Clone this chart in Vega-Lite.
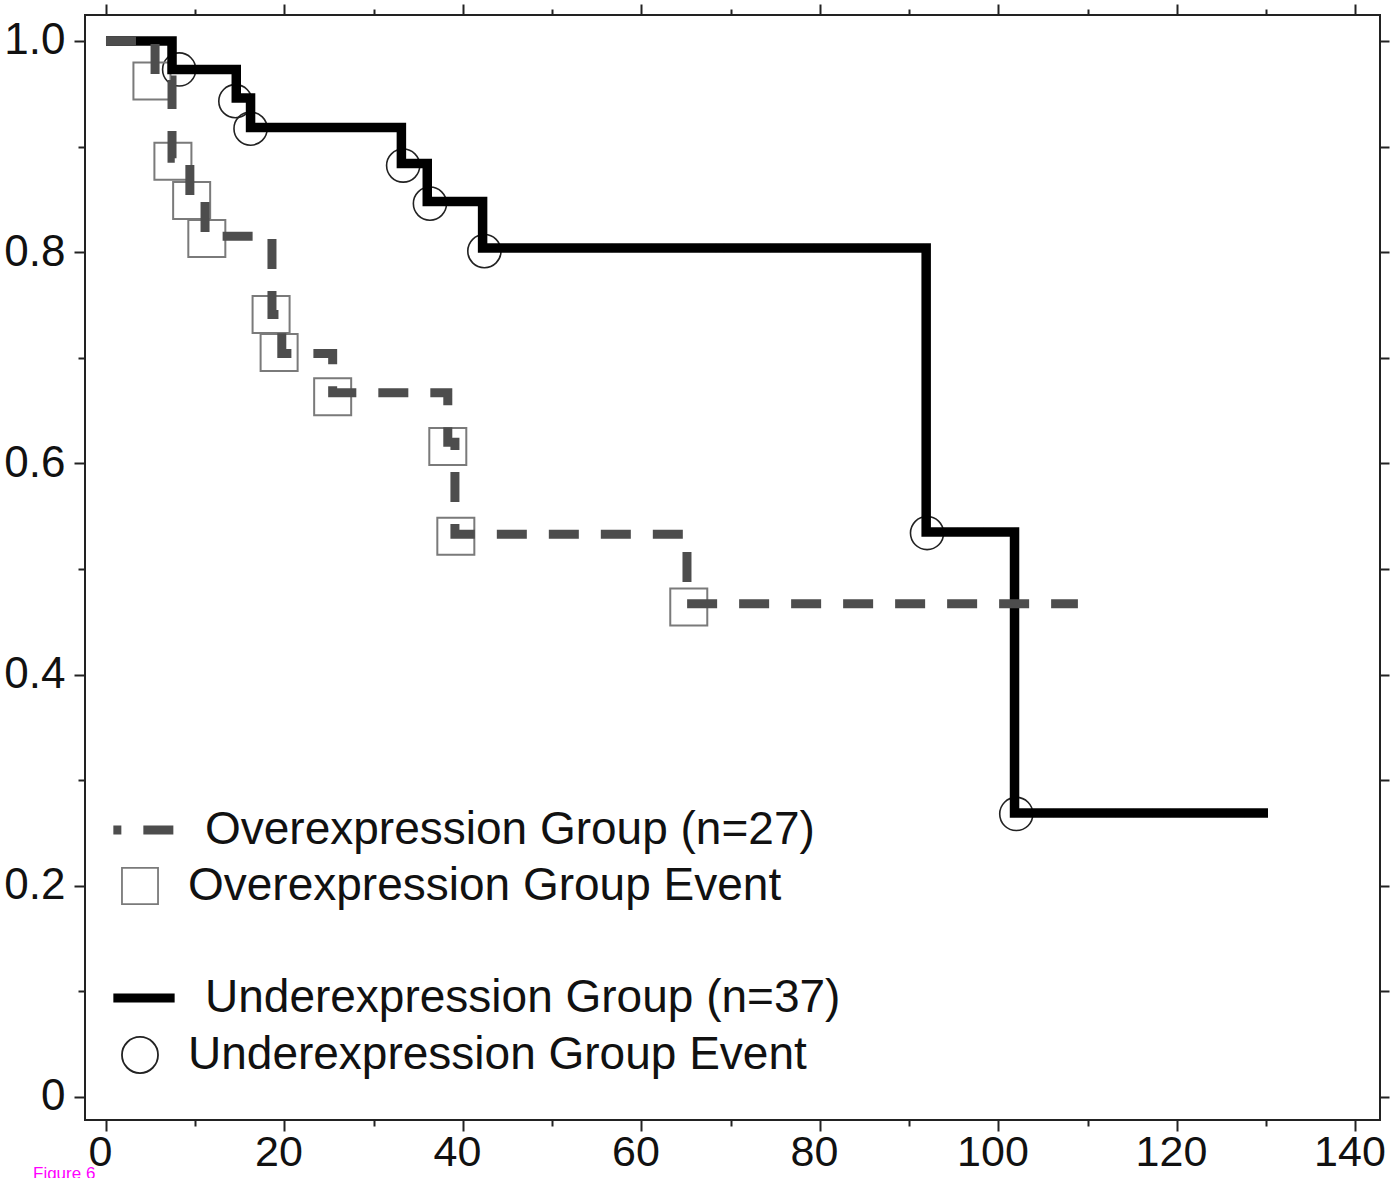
{
  "$schema": "https://vega.github.io/schema/vega-lite/v6.json",
  "width": 1295,
  "height": 1105,
  "autosize": {"type": "none"},
  "padding": {"left": 85, "top": 15, "right": 10, "bottom": 58},
  "background": "white",
  "config": {
    "view": {"stroke": "#222222", "strokeWidth": 2, "fill": "white"},
    "font": "Liberation Sans",
    "legend": {
      "orient": "none",
      "symbolSize": 1300,
      "labelFontSize": 46,
      "labelFont": "Liberation Sans",
      "labelColor": "#111111",
      "labelLimit": 2000,
      "padding": 0,
      "symbolOpacity": 1
    }
  },
  "title": {
    "text": "Figure 6",
    "orient": "bottom",
    "anchor": "start",
    "frame": "group",
    "color": "#ff00ff",
    "fontSize": 17,
    "fontWeight": "normal",
    "font": "Liberation Sans",
    "dx": -52,
    "offset": -8
  },
  "datasets": {
    "under": [
      {"time": 0, "survival": 1.0, "series": "Underexpression Group (n=37)"},
      {"time": 7.4, "survival": 0.973, "series": "Underexpression Group (n=37)"},
      {"time": 14.6, "survival": 0.946, "series": "Underexpression Group (n=37)"},
      {"time": 16.2, "survival": 0.918, "series": "Underexpression Group (n=37)"},
      {"time": 33.1, "survival": 0.884, "series": "Underexpression Group (n=37)"},
      {"time": 36.0, "survival": 0.848, "series": "Underexpression Group (n=37)"},
      {"time": 42.2, "survival": 0.804, "series": "Underexpression Group (n=37)"},
      {"time": 91.9, "survival": 0.535, "series": "Underexpression Group (n=37)"},
      {"time": 101.8, "survival": 0.269, "series": "Underexpression Group (n=37)"},
      {"time": 130.2, "survival": 0.269, "series": "Underexpression Group (n=37)"}
    ],
    "over": [
      {"time": 0, "survival": 1.0, "series": "Overexpression Group (n=27)"},
      {"time": 5.5, "survival": 0.963, "series": "Overexpression Group (n=27)"},
      {"time": 7.4, "survival": 0.889, "series": "Overexpression Group (n=27)"},
      {"time": 9.4, "survival": 0.852, "series": "Overexpression Group (n=27)"},
      {"time": 11.1, "survival": 0.815, "series": "Overexpression Group (n=27)"},
      {"time": 18.6, "survival": 0.741, "series": "Overexpression Group (n=27)"},
      {"time": 19.7, "survival": 0.704, "series": "Overexpression Group (n=27)"},
      {"time": 25.4, "survival": 0.667, "series": "Overexpression Group (n=27)"},
      {"time": 38.3, "survival": 0.62, "series": "Overexpression Group (n=27)"},
      {"time": 39.1, "survival": 0.533, "series": "Overexpression Group (n=27)"},
      {"time": 65.1, "survival": 0.467, "series": "Overexpression Group (n=27)"},
      {"time": 108.9, "survival": 0.467, "series": "Overexpression Group (n=27)"}
    ],
    "underEvents": [
      {"time": 8.2, "survival": 0.973, "series": "Underexpression Group Event"},
      {"time": 14.5, "survival": 0.943, "series": "Underexpression Group Event"},
      {"time": 16.2, "survival": 0.917, "series": "Underexpression Group Event"},
      {"time": 33.3, "survival": 0.882, "series": "Underexpression Group Event"},
      {"time": 36.3, "survival": 0.846, "series": "Underexpression Group Event"},
      {"time": 42.4, "survival": 0.801, "series": "Underexpression Group Event"},
      {"time": 92.0, "survival": 0.534, "series": "Underexpression Group Event"},
      {"time": 102.0, "survival": 0.268, "series": "Underexpression Group Event"}
    ],
    "overEvents": [
      {"time": 5.15, "survival": 0.962, "series": "Overexpression Group Event"},
      {"time": 7.5, "survival": 0.886, "series": "Overexpression Group Event"},
      {"time": 9.6, "survival": 0.849, "series": "Overexpression Group Event"},
      {"time": 11.3, "survival": 0.813, "series": "Overexpression Group Event"},
      {"time": 18.5, "survival": 0.741, "series": "Overexpression Group Event"},
      {"time": 19.4, "survival": 0.705, "series": "Overexpression Group Event"},
      {"time": 25.4, "survival": 0.663, "series": "Overexpression Group Event"},
      {"time": 38.3, "survival": 0.616, "series": "Overexpression Group Event"},
      {"time": 39.2, "survival": 0.531, "series": "Overexpression Group Event"},
      {"time": 65.3, "survival": 0.464, "series": "Overexpression Group Event"}
    ]
  },
  "resolve": {"axis": {"x": "independent", "y": "independent"}},
  "layer": [
    {
      "data": {"name": "underEvents"},
      "mark": {"type": "point", "filled": false, "size": 1100, "strokeWidth": 1.6, "opacity": 1},
      "encoding": {
        "x": {"field": "time", "type": "quantitative",
          "scale": {"domain": [-2.35, 142.75], "nice": false, "zero": false},
          "axis": {"orient": "top", "values": [0,10,20,30,40,50,60,70,80,90,100,110,120,130,140], "labels": false, "title": null, "domain": false, "grid": false, "tickColor": "#222222", "tickWidth": 2,
            "tickSize": {"condition": {"test": "datum.value % 20 == 0", "value": 11}, "value": 6}}},
        "y": {"field": "survival", "type": "quantitative",
          "scale": {"domain": [-0.0218, 1.0246], "nice": false, "zero": false},
          "axis": {"orient": "right", "values": [0,0.1,0.2,0.3,0.4,0.5,0.6,0.7,0.8,0.9,1.0], "labels": false, "title": null, "domain": false, "grid": false, "tickColor": "#222222", "tickWidth": 2, "tickSize": 9}},
        "color": {"field": "series", "type": "nominal",
          "scale": {"domain": ["Overexpression Group Event", "Underexpression Group Event"], "range": ["#7a7a7a", "#222222"]},
          "legend": {"title": null, "orient": "none", "legendX": 32, "legendY": 848, "rowPadding": 123, "symbolStrokeWidth": 1.8, "labelOffset": 25}},
        "shape": {"field": "series", "type": "nominal",
          "scale": {"domain": ["Overexpression Group Event", "Underexpression Group Event"], "range": ["square", "circle"]},
          "legend": {"title": null, "orient": "none", "legendX": 32, "legendY": 848, "rowPadding": 123, "symbolStrokeWidth": 1.8, "labelOffset": 25}}
      }
    },
    {
      "data": {"name": "overEvents"},
      "mark": {"type": "point", "filled": false, "size": 1370, "strokeWidth": 2, "opacity": 1},
      "encoding": {
        "x": {"field": "time", "type": "quantitative", "scale": {"domain": [-2.35, 142.75], "nice": false, "zero": false}, "axis": null},
        "y": {"field": "survival", "type": "quantitative", "scale": {"domain": [-0.0218, 1.0246], "nice": false, "zero": false}, "axis": null},
        "color": {"field": "series", "type": "nominal",
          "scale": {"domain": ["Overexpression Group Event", "Underexpression Group Event"], "range": ["#7a7a7a", "#222222"]},
          "legend": {"title": null, "orient": "none", "legendX": 32, "legendY": 848, "rowPadding": 123, "symbolStrokeWidth": 1.8, "labelOffset": 25}},
        "shape": {"field": "series", "type": "nominal",
          "scale": {"domain": ["Overexpression Group Event", "Underexpression Group Event"], "range": ["square", "circle"]},
          "legend": {"title": null, "orient": "none", "legendX": 32, "legendY": 848, "rowPadding": 123, "symbolStrokeWidth": 1.8, "labelOffset": 25}}
      }
    },
    {
      "data": {"name": "under"},
      "mark": {"type": "line", "interpolate": "step-after", "strokeWidth": 9.5, "strokeCap": "butt", "strokeJoin": "miter"},
      "encoding": {
        "x": {"field": "time", "type": "quantitative",
          "scale": {"domain": [-2.35, 142.75], "nice": false, "zero": false},
          "axis": {"orient": "bottom", "values": [0,10,20,30,40,50,60,70,80,90,100,110,120,130,140], "title": null, "domain": false, "grid": false,
            "labelExpr": "datum.value % 20 == 0 ? datum.label : ''", "format": "d",
            "labelFontSize": 43, "labelFont": "Liberation Sans", "labelColor": "#111111", "labelPadding": 0, "labelFlush": false, "labelOverlap": false, "labelOffset": -6,
            "tickColor": "#222222", "tickWidth": 2,
            "tickSize": {"condition": {"test": "datum.value % 20 == 0", "value": 11}, "value": 6}}},
        "y": {"field": "survival", "type": "quantitative",
          "scale": {"domain": [-0.0218, 1.0246], "nice": false, "zero": false},
          "axis": {"orient": "left", "values": [0,0.1,0.2,0.3,0.4,0.5,0.6,0.7,0.8,0.9,1.0], "title": null, "domain": false, "grid": false,
            "labelExpr": "round(datum.value * 10) % 2 == 0 ? (datum.value == 0 ? '0' : format(datum.value, '.1f')) : ''",
            "labelFontSize": 44, "labelFont": "Liberation Sans", "labelColor": "#111111", "labelPadding": 9, "labelFlush": false, "labelOverlap": false, "labelBaseline": "middle",
            "tickColor": "#222222", "tickWidth": 2,
            "tickSize": {"condition": {"test": "round(datum.value * 10) % 2 == 0", "value": 11}, "value": 7}}},
        "stroke": {"field": "series", "type": "nominal",
          "scale": {"domain": ["Overexpression Group (n=27)", "Underexpression Group (n=37)"], "range": ["#4d4d4d", "#000000"]},
          "legend": {"title": null, "orient": "none", "legendX": 36, "legendY": 792, "rowPadding": 122, "symbolStrokeWidth": 9, "symbolType": "M-1.7,0H1.7", "symbolDashOffset": 22, "labelOffset": 38}},
        "strokeDash": {"field": "series", "type": "nominal",
          "scale": {"domain": ["Overexpression Group (n=27)", "Underexpression Group (n=37)"], "range": [[30, 22], [1, 0]]},
          "legend": {"title": null, "orient": "none", "legendX": 36, "legendY": 792, "rowPadding": 122, "symbolStrokeWidth": 9, "symbolType": "M-1.7,0H1.7", "symbolDashOffset": 22, "labelOffset": 38}}
      }
    },
    {
      "data": {"name": "over"},
      "mark": {"type": "line", "interpolate": "step-after", "strokeWidth": 9, "strokeCap": "butt", "strokeJoin": "miter"},
      "encoding": {
        "x": {"field": "time", "type": "quantitative", "scale": {"domain": [-2.35, 142.75], "nice": false, "zero": false}, "axis": null},
        "y": {"field": "survival", "type": "quantitative", "scale": {"domain": [-0.0218, 1.0246], "nice": false, "zero": false}, "axis": null},
        "stroke": {"field": "series", "type": "nominal",
          "scale": {"domain": ["Overexpression Group (n=27)", "Underexpression Group (n=37)"], "range": ["#4d4d4d", "#000000"]},
          "legend": {"title": null, "orient": "none", "legendX": 36, "legendY": 792, "rowPadding": 122, "symbolStrokeWidth": 9, "symbolType": "M-1.7,0H1.7", "symbolDashOffset": 22, "labelOffset": 38}},
        "strokeDash": {"field": "series", "type": "nominal",
          "scale": {"domain": ["Overexpression Group (n=27)", "Underexpression Group (n=37)"], "range": [[30, 22], [1, 0]]},
          "legend": {"title": null, "orient": "none", "legendX": 36, "legendY": 792, "rowPadding": 122, "symbolStrokeWidth": 9, "symbolType": "M-1.7,0H1.7", "symbolDashOffset": 22, "labelOffset": 38}}
      }
    }
  ]
}
